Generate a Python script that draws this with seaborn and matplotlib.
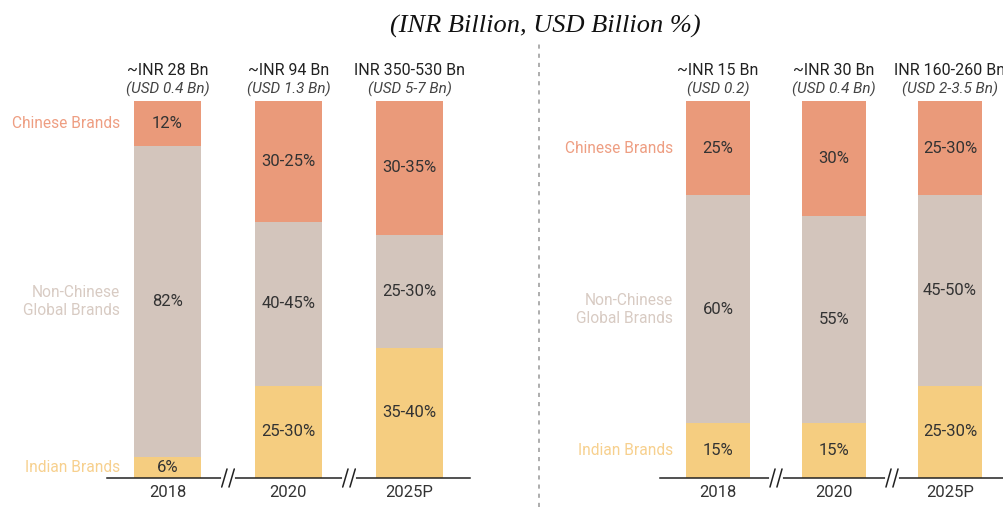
import matplotlib
matplotlib.use('Agg')
import matplotlib.pyplot as plt
import matplotlib.transforms as mtransforms
from matplotlib.lines import Line2D
import numpy as np
import pandas as pd
import seaborn as sns

# Data
years = ['2018', '2020', '2025P']

# left panel
left_indian = [5.5, 24.5, 34.5]
left_nonchinese = [82.5, 43.5, 30.0]
left_chinese = [12.0, 32.0, 35.5]
left_indian_lbl = ['6%', '25-30%', '35-40%']
left_nonchinese_lbl = ['82%', '40-45%', '25-30%']
left_chinese_lbl = ['12%', '30-25%', '30-35%']
left_inr = ['~INR 28 Bn', '~INR 94 Bn', 'INR 350-530 Bn']
left_usd = ['(USD 0.4 Bn)', '(USD 1.3 Bn)', '(USD 5-7 Bn)']

# right panel
right_indian = [14.5, 14.5, 24.5]
right_nonchinese = [60.5, 55.0, 50.5]
right_chinese = [25.0, 30.5, 25.0]
right_indian_lbl = ['15%', '15%', '25-30%']
right_nonchinese_lbl = ['60%', '55%', '45-50%']
right_chinese_lbl = ['25%', '30%', '25-30%']
right_inr = ['~INR 15 Bn', '~INR 30 Bn', 'INR 160-260 Bn']
right_usd = ['(USD 0.2)', '(USD 0.4 Bn)', '(USD 2-3.5 Bn)']

segments = ['Indian Brands', 'Non-Chinese\nGlobal Brands', 'Chinese Brands']
bar_colors = ['#F5CD80', '#D3C5BC', '#EA9A7A']
label_colors = ['#F7D08E', '#D8CBC3', '#EE9E82']

sns.set_theme(style='white')
plt.rcParams['font.family'] = ['Roboto', 'DejaVu Sans']

W, H = 1004, 507
fig = plt.figure(figsize=(W / 100, H / 100), dpi=100)


def px_axes(x0, x1, y_top, y_bot):
    return fig.add_axes([x0 / W, 1 - y_bot / H, (x1 - x0) / W, (y_bot - y_top) / H])


def draw_panel(ax, indian, nonchinese, chinese, lbls, inr, usd):
    df = pd.DataFrame({'year': years, 'indian': indian,
                       'nonchinese': nonchinese, 'chinese': chinese})
    df['c2'] = df['indian'] + df['nonchinese']
    df['c3'] = df['c2'] + df['chinese']
    # stacked look: draw totals first, then overlay the lower parts
    for col, color in [('c3', bar_colors[2]), ('c2', bar_colors[1]), ('indian', bar_colors[0])]:
        sns.barplot(data=df, x='year', y=col, color=color, saturation=1,
                    width=0.55, ax=ax, linewidth=0)
    ax.set_xlim(-0.5, 2.5)
    ax.set_ylim(0, 100)
    ax.set_xlabel('')
    ax.set_ylabel('')
    ax.set_yticks([])
    ax.tick_params(axis='x', length=0, labelsize=12, labelcolor='#333333', pad=5)
    for s in ['top', 'left', 'right']:
        ax.spines[s].set_visible(False)
    ax.spines['bottom'].set_color('#222222')
    ax.spines['bottom'].set_linewidth(1.1)

    # values in the segments
    lows = [np.zeros(3), np.array(indian), np.array(indian) + np.array(nonchinese)]
    for seg_vals, low, seg_lbls in zip([indian, nonchinese, chinese], lows, lbls):
        for i in range(3):
            ax.text(i, low[i] + seg_vals[i] / 2, seg_lbls[i], ha='center', va='center',
                    fontsize=12, color='#333333')

    # segment names beside the first bar
    for k, name in enumerate(segments):
        y = lows[k][0] + [indian, nonchinese, chinese][k][0] / 2
        ax.text(-0.39, y, name, ha='right', va='center', fontsize=11.2,
                color=label_colors[k], linespacing=1.25, clip_on=False)

    # headers above bars
    for i in range(3):
        ax.text(i, 108.0, inr[i], ha='center', va='center', fontsize=11.5,
                color='#222222', clip_on=False)
        ax.text(i, 103.0, usd[i], ha='center', va='center', fontsize=11,
                style='italic', color='#444444', clip_on=False)

    # axis break marks
    trans = mtransforms.blended_transform_factory(ax.transData, ax.transAxes)
    for xb in [0.5, 1.5]:
        ax.plot([xb - 0.045, xb + 0.045], [0, 0], color='white', lw=3,
                transform=trans, clip_on=False, zorder=5)
        for dx in [-0.03, 0.03]:
            ax.plot([xb + dx - 0.022, xb + dx + 0.022], [-0.024, 0.024],
                    color='#222222', lw=1.1, transform=trans, clip_on=False, zorder=6)


ax1 = px_axes(107, 470, 101, 478)
draw_panel(ax1, left_indian, left_nonchinese, left_chinese,
           [left_indian_lbl, left_nonchinese_lbl, left_chinese_lbl], left_inr, left_usd)

ax2 = px_axes(660, 1008, 101, 478)
draw_panel(ax2, right_indian, right_nonchinese, right_chinese,
           [right_indian_lbl, right_nonchinese_lbl, right_chinese_lbl], right_inr, right_usd)

# divider
fig.add_artist(Line2D([539 / W, 539 / W], [0, 1 - 42 / H], color='#a0a0a0',
                      lw=1.2, linestyle=(0, (2.5, 3))))

fig.text(545 / W, 1 - 26 / H, '(INR Billion, USD Billion %)', ha='center', va='center',
         fontsize=19, style='italic', family=['Liberation Serif', 'DejaVu Serif'],
         color='#111111')

fig.savefig('out.png', dpi=100)
